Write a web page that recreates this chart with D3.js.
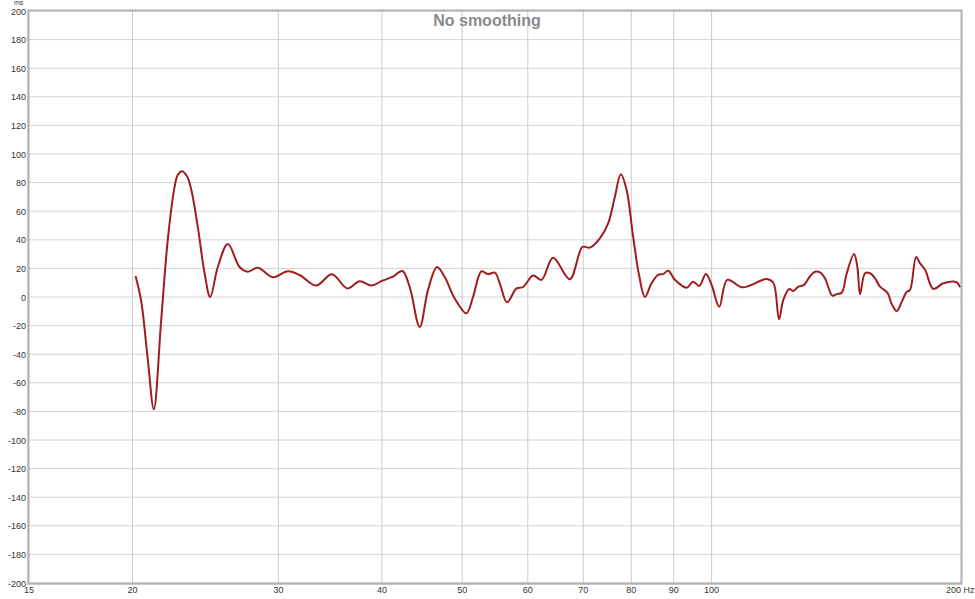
<!DOCTYPE html>
<html><head><meta charset="utf-8">
<script src="https://cdn.jsdelivr.net/npm/d3@7"></script>
<style>body{margin:0;background:#fff;}svg{display:block;font-family:"Liberation Sans",Arial,sans-serif;}</style>
</head><body><svg id="c" width="975" height="599"></svg>
<script>
const title = "No smoothing";
const yTicks = d3.range(-200, 201, 20);
const xTicks = [15, 20, 30, 40, 50, 60, 70, 80, 90, 100, 200];
const xGrid = [20, 30, 40, 50, 60, 70, 80, 90, 100];
const freq = [20.17,20.49,20.87,21.22,21.66,22.06,22.48,22.68,22.96,23.29,23.55,23.98,24.43,24.82,25.35,26.07,26.93,27.56,28.34,29.54,30.80,31.82,33.33,34.81,36.34,37.60,38.84,40.05,41.25,42.34,43.21,44.43,45.47,46.62,47.63,48.97,50.59,51.53,52.75,53.72,54.74,55.50,56.64,58.14,59.22,60.89,62.33,64.37,67.43,69.85,71.29,73.30,75.01,76.42,77.70,78.95,80.41,81.76,83.07,84.63,86.20,87.41,88.64,90.30,93.29,95.02,96.62,98.44,100.01,102.15,104.44,108.71,111.25,114.39,116.54,118.70,120.60,122.05,124.10,125.49,127.25,129.3,131.46,133.3,135.17,137.06,139.87,141.59,143.58,145.59,148.57,149.95,151.07,153.19,155.33,157.51,159.71,162.99,165.00,167.31,169.65,172.02,173.61,176.53,178.51,181.01,185.23,190.40,197.62,199.44];
const ms = [14.7,-3,-44,-78.5,-16,40,77,85.3,88,84,75,49,17,0,21,37,21,17.7,20.5,13.8,18,15.4,8,15.9,6,11,8,11.4,14.2,18.2,7,-21,5,21,14,-1,-11.4,0,18,16,17,9.6,-3.7,6,7,15,12,27.5,12.4,35,34.5,41,51.5,70,85.8,75,42,15,0,9.6,15.5,16,18.4,12,6.5,10.7,7.7,16,8.4,-6.8,12,6.8,8,11.2,12.6,10,-15.6,-2,5.6,4.2,7.2,8.5,14.5,17.7,17.3,13,1,2,3,16.6,30,21,2,16.6,16.6,13,7.2,3,-5,-9.8,-3.3,3.7,5,28,23.5,19,5.6,9.6,10.3,6.8];

const svg = d3.select("#c");
const L = 29, R = 961, T = 11, B = 583;
const x = d3.scaleLog().domain([15, 200]).range([L, R]);
const y = d3.scaleLinear().domain([-200, 200]).range([B, T]);

// grid
svg.append("g").selectAll("line").data(yTicks).join("line")
  .attr("x1", L).attr("x2", R).attr("y1", d => y(d)).attr("y2", d => y(d))
  .attr("stroke", "#d4d4d4").attr("stroke-width", 1);
svg.append("g").selectAll("line").data(xGrid).join("line")
  .attr("x1", d => x(d)).attr("x2", d => x(d)).attr("y1", T).attr("y2", B)
  .attr("stroke", "#cccccc").attr("stroke-width", 1);

// frame
svg.append("rect").attr("x", L - 0.5).attr("y", T - 0.5).attr("width", R - L + 1).attr("height", B - T + 1)
  .attr("fill", "none").attr("stroke", "#b0b0b0").attr("stroke-width", 2);
svg.append("line").attr("x1", L - 1.5).attr("x2", L - 1.5).attr("y1", T).attr("y2", B + 2).attr("stroke", "#c8c8c8").attr("stroke-width", 1);
svg.append("line").attr("x1", L - 1).attr("x2", R + 1).attr("y1", B + 1.5).attr("y2", B + 1.5).attr("stroke", "#c8c8c8").attr("stroke-width", 1);

// y labels
svg.append("g").selectAll("text").data(yTicks).join("text")
  .attr("x", 26).attr("y", d => y(d) + 3.5).attr("text-anchor", "end")
  .attr("font-size", 9).attr("fill", "#333").text(d => d);
svg.append("text").attr("x", 14).attr("y", 5).attr("font-size", 7).attr("fill", "#333").text("ms");

// x labels
svg.append("g").selectAll("text").data(xTicks).join("text")
  .attr("x", d => d === 200 ? x(d) - 15 : x(d)).attr("y", 593)
  .attr("text-anchor", d => d === 200 ? "start" : "middle")
  .attr("font-size", 9).attr("fill", "#333").text(d => d === 200 ? "200 Hz" : d);

// title
svg.append("text").attr("x", 487).attr("y", 26).attr("text-anchor", "middle")
  .attr("font-size", 16).attr("font-weight", "bold").attr("fill", "#8a8a8a").text(title);

// curve
const pts = freq.map((f, i) => [f, ms[i]]);
const line = d3.line().x(d => x(d[0])).y(d => y(d[1])).curve(d3.curveCatmullRom.alpha(0.5));
svg.append("path").datum(pts).attr("d", line).attr("fill", "none")
  .attr("stroke", "#a11d1d").attr("stroke-width", 2).attr("stroke-linejoin", "round");
</script></body></html>
